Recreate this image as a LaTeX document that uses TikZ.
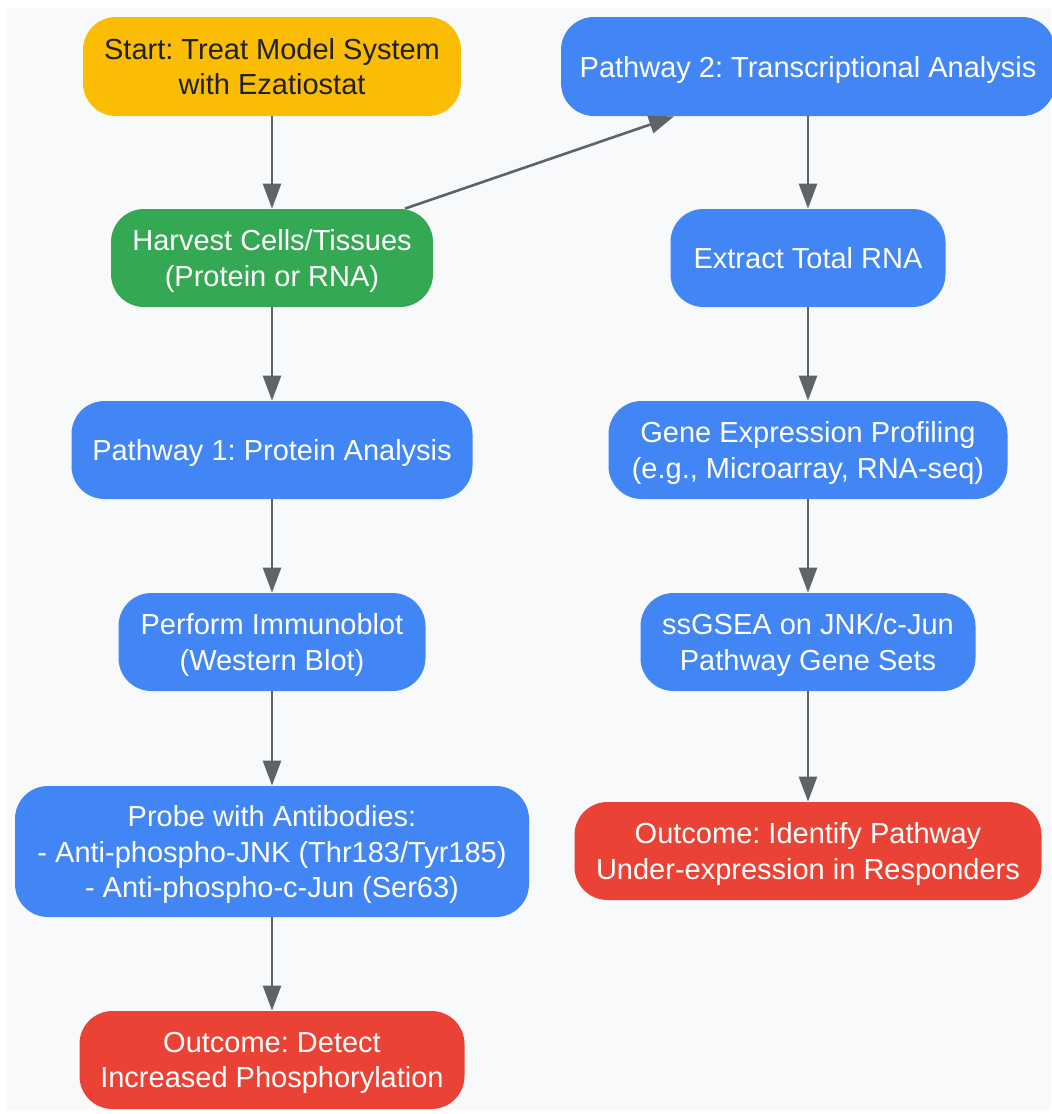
\documentclass[tikz,border=0pt]{standalone}
\usepackage{fontspec}
\setmainfont{Liberation Sans}
\usetikzlibrary{arrows.meta}
\definecolor{bgc}{HTML}{F8F9FA}
\definecolor{cyel}{HTML}{FBBC04}
\definecolor{cgrn}{HTML}{34A853}
\definecolor{cblu}{HTML}{4285F4}
\definecolor{cred}{HTML}{EA4335}
\definecolor{cedge}{HTML}{5F6368}
\definecolor{cdark}{HTML}{202124}
\tikzset{
  box/.style={rectangle, rounded corners=16.5pt, inner sep=0pt, align=center,
    font=\frenchspacing\fontsize{14.5pt}{17.75pt}\selectfont, text=white, draw=none, text depth=0pt},
  startbox/.style={box, fill=cyel, text=cdark},
  harvbox/.style={box, fill=cgrn},
  stepbox/.style={box, fill=cblu},
  outbox/.style={box, fill=cred},
  arr/.style={draw=cedge, line width=1.3pt, -{Triangle[length=12.5pt,width=9pt]}, fill=cedge}
}
\begin{document}
\begin{tikzpicture}[x=0.5pt,y=-0.5pt]
\useasboundingbox (0,0) rectangle (1051,1114);
\fill[bgc] (6,8) rectangle (1051,1110);
% left column
\node[startbox, minimum width=189pt, minimum height=49.5pt] (start) at (272,66.5) {Start: Treat Model System\\with Ezatiostat};
\node[harvbox, minimum width=161pt, minimum height=49pt] (harvest) at (272,258) {Harvest Cells/Tissues\\(Protein or RNA)};
\node[stepbox, minimum width=200.5pt, minimum height=49pt] (path1) at (272,450) {Pathway 1: Protein Analysis};
\node[stepbox, minimum width=153.5pt, minimum height=49pt] (immuno) at (272,642) {Perform Immunoblot\\(Western Blot)};
\node[stepbox, minimum width=257pt, minimum height=65.5pt] (probe) at (272,851.5) {Probe with Antibodies:\\- Anti-phospho-JNK (Thr183/Tyr185)\\- Anti-phospho-c-Jun (Ser63)};
\node[outbox, minimum width=192.5pt, minimum height=49pt] (outL) at (272,1060) {Outcome: Detect\\Increased Phosphorylation};
% right column
\node[stepbox, minimum width=247pt, minimum height=49.5pt] (path2) at (808,66.5) {Pathway 2: Transcriptional Analysis};
\node[stepbox, minimum width=137.5pt, minimum height=49pt] (rna) at (808,258) {Extract Total RNA};
\node[stepbox, minimum width=199.5pt, minimum height=49pt] (gene) at (808,450) {Gene Expression Profiling\\(e.g., Microarray, RNA-seq)};
\node[stepbox, minimum width=167.5pt, minimum height=49pt] (ssgsea) at (808,642) {ssGSEA on JNK/c-Jun\\Pathway Gene Sets};
\node[outbox, minimum width=233.5pt, minimum height=49pt] (outR) at (808,851) {Outcome: Identify Pathway\\Under-expression in Responders};
% connectors
\draw[arr] (start) -- (harvest);
\draw[arr] (harvest) -- (path1);
\draw[arr] (path1) -- (immuno);
\draw[arr] (immuno) -- (probe);
\draw[arr] (probe) -- (outL);
\draw[arr] ([xshift=66.5pt]harvest.north) -- ([xshift=-67pt]path2.south);
\draw[arr] (path2) -- (rna);
\draw[arr] (rna) -- (gene);
\draw[arr] (gene) -- (ssgsea);
\draw[arr] (ssgsea) -- (outR);
\end{tikzpicture}
\end{document}
